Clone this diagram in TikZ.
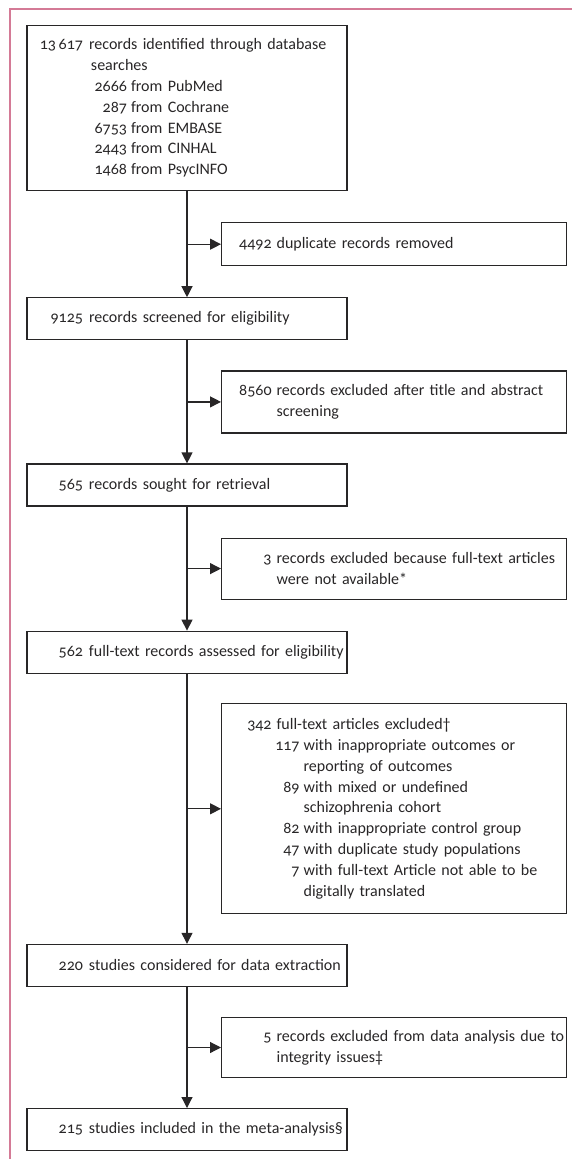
\documentclass[tikz,border=0pt]{standalone}
\usepackage{fontspec}
\setmainfont[Numbers=OldStyle]{Carlito}
\usetikzlibrary{positioning,calc,arrows.meta}

\definecolor{framepink}{RGB}{212,122,150}
\definecolor{ink}{RGB}{40,38,39}

% number columns of the boxes
\newcommand{\lnum}[1]{\makebox[56pt][r]{#1}\hspace{6pt}\ignorespaces}
\newcommand{\rnum}[1]{\makebox[50pt][r]{#1}\hspace{5pt}\ignorespaces}
\newcommand{\srcnum}[1]{\hspace*{64pt}\makebox[36pt][r]{#1}\hspace{4pt}\ignorespaces}
\newcommand{\subnum}[1]{\hspace*{50pt}\makebox[28pt][r]{#1}\hspace{4pt}\ignorespaces}

\begin{document}
\begin{tikzpicture}[x=1pt, y=-1pt,
  every node/.style={align=left, text=ink, font=\fontsize{16}{20.8}\selectfont},
  stage/.style={draw=ink, line width=1.2pt, inner xsep=0pt, inner ysep=0pt, text width=320pt, minimum height=42pt},
  excl/.style={stage, text width=345pt},
  flow/.style={draw=ink, line width=1.2pt, -{Triangle[length=11pt, width=11pt]}}]
\useasboundingbox (0,0) rectangle (572,1159);
\draw[framepink, line width=2pt] (10,1159) -- (10,9) -- (572,9);

\node (ident) [stage, minimum height=165pt, anchor=north] at (187,25) {\lnum{13\,617}records identified through database\\
  \hspace*{64pt}searches\\
  \srcnum{2666}from PubMed\\
  \srcnum{287}from Cochrane\\
  \srcnum{6753}from EMBASE\\
  \srcnum{2443}from CINHAL\\
  \srcnum{1468}from PsycINFO};
\node (screen) [stage, below=106pt of ident] {\lnum{9125}records screened for eligibility};
\node (retrieve) [stage, below=123pt of screen] {\lnum{565}records sought for retrieval};
\node (assess) [stage, below=124pt of retrieve] {\lnum{562}full-text records assessed for eligibility};
\node (extract) [stage, below=270pt of assess] {\lnum{220}studies considered for data extraction};
\node (incl) [stage, below=121pt of extract] {\lnum{215}studies included in the meta-analysis§};

% branch points on the main line
\coordinate (m1) at ($(ident.south)!0.5!(screen.north)$);
\coordinate (m2) at ($(screen.south)!0.5!(retrieve.north)$);
\coordinate (m3) at ($(retrieve.south)!0.5!(assess.north)$);
\coordinate (m4) at ($(assess.south)!0.5!(extract.north)$);
\coordinate (m5) at ($(extract.south)!0.5!(incl.north)$);

\node (dup) [excl, minimum height=43pt, right=34pt of m1] {\rnum{4492}duplicate records removed};
\node (tiab) [excl, minimum height=62pt, right=34pt of m2] {\rnum{8560}records excluded after title and abstract\\
  \hspace*{55pt}screening};
\node (nofull) [excl, minimum height=61pt, right=34pt of m3] {\rnum{3}records excluded because full-text articles\\
  \hspace*{55pt}were not available*};
\node (ftexcl) [excl, minimum height=210pt, right=34pt of m4] {\rnum{342}full-text articles excluded†\\
  \subnum{117}with inappropriate outcomes or\\
  \hspace*{82pt}reporting of outcomes\\
  \subnum{89}with mixed or undefined\\
  \hspace*{82pt}schizophrenia cohort\\
  \subnum{82}with inappropriate control group\\
  \subnum{47}with duplicate study populations\\
  \subnum{7}with full-text Article not able to be\\
  \hspace*{82pt}digitally translated};
\node (integ) [excl, minimum height=60pt, right=34pt of m5] {\rnum{5}records excluded from data analysis due to\\
  \hspace*{55pt}integrity issues‡};

\draw[flow] (ident) -- (screen);
\draw[flow] (screen) -- (retrieve);
\draw[flow] (retrieve) -- (assess);
\draw[flow] (assess) -- (extract);
\draw[flow] (extract) -- (incl);
\draw[flow] (m1) -- (dup);
\draw[flow] (m2) -- (tiab);
\draw[flow] (m3) -- (nofull);
\draw[flow] (m4) -- (ftexcl);
\draw[flow] (m5) -- (integ);
\end{tikzpicture}
\end{document}
